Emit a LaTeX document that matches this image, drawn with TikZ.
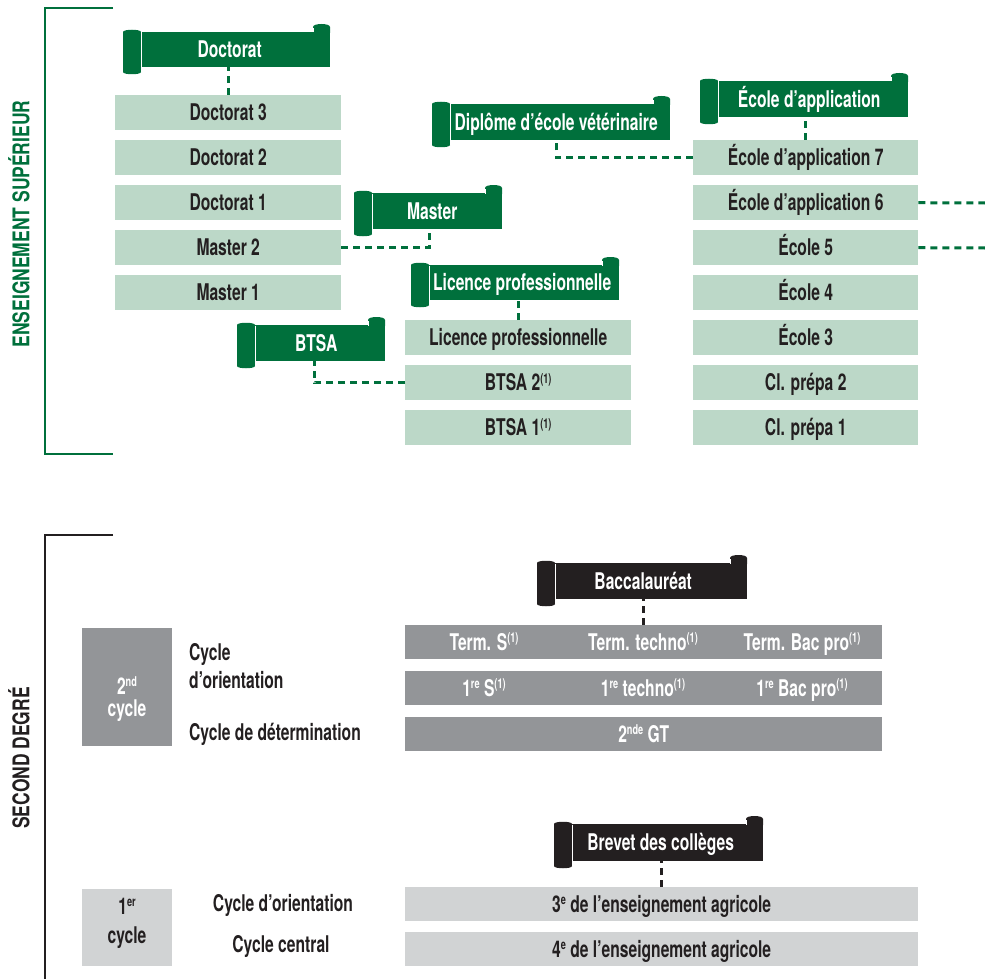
\documentclass[tikz,border=0pt]{standalone}
\usepackage{fontspec}
\newfontfamily\cfont{TeX Gyre Heros}[FakeStretch=0.68]
\newfontfamily\vfont{TeX Gyre Heros}[FakeStretch=0.76]
\definecolor{dgreen}{HTML}{00703C}
\definecolor{lgreen}{HTML}{BCD8C8}
\definecolor{dgray}{HTML}{939598}
\definecolor{lgray}{HTML}{D1D3D4}
\definecolor{ink}{HTML}{231F20}
\newcommand{\bxfont}{\cfont\bfseries\fontsize{23}{27}\selectfont}
\newcommand{\supr}[1]{\raisebox{7.5pt}{\fontsize{13.5}{14}\selectfont #1}}
\tikzset{
  lbox/.style={fill=lgreen, minimum width=226pt, minimum height=35pt, inner sep=0pt,
    text depth=0pt, text height=16.5pt, text=ink, font=\bxfont, anchor=north west},
  gbar/.style={fill=dgray, minimum height=34pt, inner sep=0pt, anchor=north west},
  lbar/.style={fill=lgray, minimum width=513pt, minimum height=34pt, inner sep=0pt,
    text depth=0pt, text height=16.5pt, text=ink, font=\bxfont, anchor=north west},
  wtxt/.style={text=white, font=\bxfont, inner sep=0pt, text depth=0pt, text height=16.5pt},
  ktxt/.style={text=ink, font=\bxfont, inner sep=0pt},
  btxt/.style={text=white, font=\bxfont, inner sep=0pt, text depth=0pt, text height=16.5pt},
  gdash/.style={dgreen, line width=3pt, dash pattern=on 7pt off 5pt},
  kdash/.style={ink, line width=3pt, dash pattern=on 7pt off 5pt},
  sidetxt/.style={rotate=90, font=\vfont\bfseries\fontsize{23}{27}\selectfont, inner sep=0pt},
}
% #1 colour, #2 x1, #3 y1 (top), #4 x2, #5 y2 (bottom), #6 name, #7 text, #8 text shift
\newcommand{\ribbon}[8]{%
  \node[anchor=north west, fill=#1, minimum width={#4-#2}, minimum height={#5-#3}, inner sep=0pt] (#6) at (#2,#3) {};
  \fill[#1] (#4-17,#3+1) -- (#4-17,#3-5) .. controls (#4-17,#3-9) and (#4,#3-9) .. (#4,#3-5) -- (#4,#3+1) -- cycle;
  \fill[#1] (#2-18,#3) .. controls (#2-18,#3-3) and (#2,#3-3) .. (#2,#3) -- (#2,#5+5) .. controls (#2,#5+8) and (#2-18,#5+8) .. (#2-18,#5+5) -- cycle;
  \draw[white, line width=0.7pt] (#2,#3+0.5) -- (#2,#5+5);
  \draw[white, line width=0.6pt] (#4-17,#3-4) -- (#4-17,#3+0.5);
  \node[btxt] (#6-t) at ([xshift=#8pt]#6.center) {#7};
}
\begin{document}
\begin{tikzpicture}[x=1pt,y=-1pt]
\useasboundingbox (0,0) rectangle (985,979);

% ---------- brackets and side labels
\draw[dgreen, line width=1.3pt] (113,8) -- (45,8) -- (45,454) -- (113,454);
\draw[ink, line width=1.3pt] (113,535) -- (45,535) -- (45,979);
\node[sidetxt, text=dgreen] (sup) at (19,224) {ENSEIGNEMENT SUPÉRIEUR};
\node[sidetxt, text=ink] (sec) at (19,758) {SECOND DEGRÉ};

% ---------- left column
\node[lbox] (d3) at (115,95) {Doctorat 3};
\node[lbox] (d2) at (115,140) {Doctorat 2};
\node[lbox] (d1) at (115,185) {Doctorat 1};
\node[lbox] (m2) at (115,230) {Master 2};
\node[lbox] (m1) at (115,275) {Master 1};

% ---------- middle column
\node[lbox] (lp) at (405,320) {Licence professionnelle};
\node[lbox] (b2) at (405,365) {BTSA 2\supr{(1)}};
\node[lbox] (b1) at (405,410) {BTSA 1\supr{(1)}};

% ---------- right column
\node[lbox, minimum width=225pt] (e7) at (693,140) {École d’application 7};
\node[lbox, minimum width=225pt] (e6) at (693,185) {École d’application 6};
\node[lbox, minimum width=225pt] (e5) at (693,230) {École 5};
\node[lbox, minimum width=225pt] (e4) at (693,275) {École 4};
\node[lbox, minimum width=225pt] (e3) at (693,320) {École 3};
\node[lbox, minimum width=225pt] (cp2) at (693,365) {Cl. prépa 2};
\node[lbox, minimum width=225pt] (cp1) at (693,410) {Cl. prépa 1};

% ---------- ribbons
\ribbon{dgreen}{141}{32}{330}{67}{doct}{Doctorat}{-6}
\ribbon{dgreen}{450}{104}{670}{140}{dipl}{Diplôme d’école vétérinaire}{-4}
\ribbon{dgreen}{718}{81}{908}{117}{eapp}{École d’application}{-4}
\ribbon{dgreen}{372}{193}{502}{229}{mast}{Master}{-5}
\ribbon{dgreen}{429}{265}{619}{300}{lic}{Licence professionnelle}{-2}
\ribbon{dgreen}{255}{325}{385}{361}{btsa}{BTSA}{-4}
\ribbon{ink}{555}{563}{747}{599}{bac}{Baccalauréat}{-8}
\ribbon{ink}{572}{824}{763}{861}{brev}{Brevet des collèges}{-7}

% ---------- green connectors
\draw[gdash] (d3.north) -- (d3.north |- doct.south);
\draw[gdash] (e7.north) -- (e7.north |- eapp.south);
\draw[gdash] (lp.north) -- (lp.north |- lic.south);
\draw[gdash] (m2.east) -| ([xshift=-8pt]mast.south);
\draw[gdash] (b2.west) -| ([xshift=-6pt]btsa.south);
\draw[gdash] (e7.west) -| ([xshift=-4pt]dipl.south);
\coordinate (r6) at (985,203);
\coordinate (r5) at (985,248);
\draw[gdash] (e6.east) -- (r6);
\draw[gdash] (e5.east) -- (r5);

% ---------- second degree, 2nd cycle
\node[fill=dgray, minimum width=90pt, minimum height=118pt, inner sep=0pt, anchor=north west] (c2) at (82,628) {};
\node[text=white, font=\bxfont, inner sep=0pt, anchor=base] (c2a) at (127,694) {2\supr{nd}};
\node[text=white, font=\bxfont, inner sep=0pt, anchor=base] (c2b) at (127,716) {cycle};
\node[ktxt, anchor=base west] (lc1) at (189,660) {Cycle};
\node[ktxt, anchor=base west] (lc2) at (189,688) {d’orientation};
\node[ktxt, anchor=base west] (lc3) at (189,740) {Cycle de détermination};

\node[gbar, minimum width=477pt] (term) at (405,625) {};
\node[gbar, minimum width=477pt] (prem) at (405,671) {};
\node[gbar, minimum width=477pt, text depth=0pt, text height=16.5pt, text=white, font=\bxfont] (snd) at (405,717) {2\supr{nde} GT};
\node[wtxt] (tS) at (484,642) {Term. S\supr{(1)}};
\node[wtxt] (tT) at (643,642) {Term. techno\supr{(1)}};
\node[wtxt] (tB) at (802,642) {Term. Bac pro\supr{(1)}};
\node[wtxt] (pS) at (484,688) {1\supr{re} S\supr{(1)}};
\node[wtxt] (pT) at (643,688) {1\supr{re} techno\supr{(1)}};
\node[wtxt] (pB) at (802,688) {1\supr{re} Bac pro\supr{(1)}};
\draw[kdash] (term.north) -- (term.north |- bac.south);

% ---------- 1er cycle
\node[fill=lgray, minimum width=90pt, minimum height=77pt, inner sep=0pt, anchor=north west] (c1) at (82,889) {};
\node[ktxt, anchor=base] (c1a) at (127,914) {1\supr{er}};
\node[ktxt, anchor=base] (c1b) at (127,943) {cycle};
\node[ktxt, anchor=base] (lc4) at (283,911) {Cycle d’orientation};
\node[ktxt, anchor=base] (lc5) at (281,952) {Cycle central};
\node[lbar] (r3) at (405,887) {3\supr{e} de l’enseignement agricole};
\node[lbar] (r4) at (405,932) {4\supr{e} de l’enseignement agricole};
\draw[kdash] (r3.north) -- (r3.north |- brev.south);
\end{tikzpicture}
\end{document}
